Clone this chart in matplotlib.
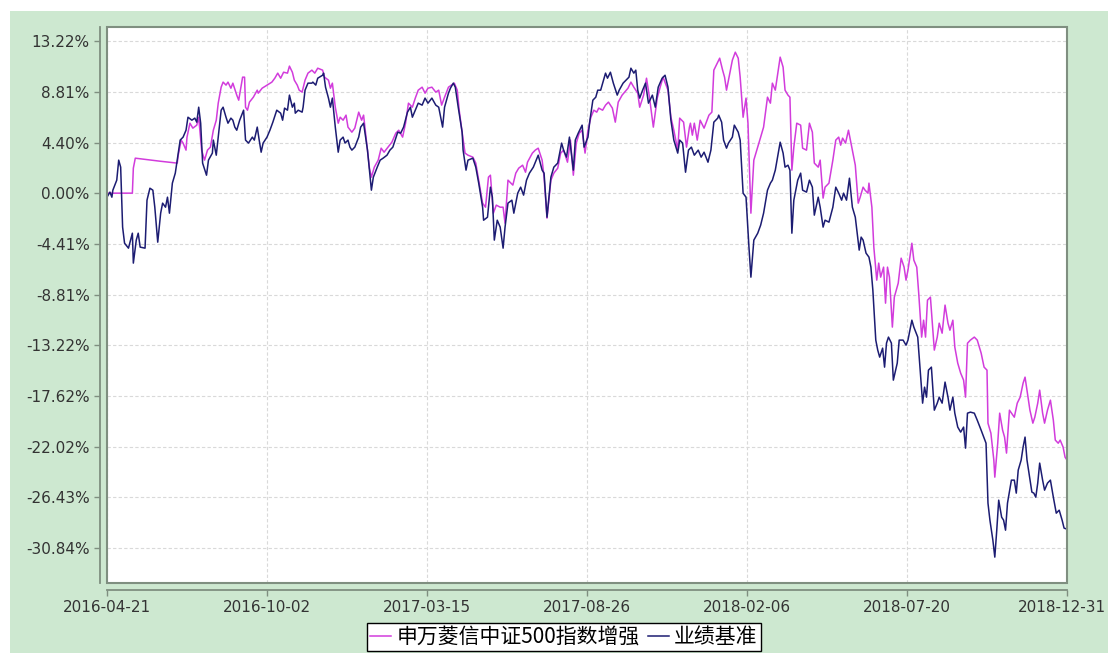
import pandas as pd
import matplotlib
matplotlib.use("Agg")
import matplotlib.pyplot as plt
import matplotlib.transforms as mtransforms
from matplotlib.patches import Rectangle

plt.rcParams['font.family'] = ['Noto Sans CJK SC', 'DejaVu Sans']

start_date = pd.Timestamp("2016-04-21")

# fund: days since start, cumulative return in %
fund_days = [0, 26, 27, 29, 54, 72, 73, 76, 78, 81, 82, 85, 88, 92, 94, 97, 100, 103, 106, 109,
             112, 114, 117, 119, 122, 124, 127, 129, 133, 135, 139, 141, 142, 144, 146, 150, 154, 155, 159, 164,
             169, 172, 175, 178, 181, 185, 187, 190, 192, 195, 197, 200, 203, 206, 210, 213, 216, 221, 223, 227,
             229, 231, 234, 237, 239, 242, 245, 247, 251, 254, 258, 261, 263, 267, 269, 271, 274, 278, 281, 284,
             288, 292, 296, 299, 303, 306, 309, 313, 316, 319, 323, 326, 329, 333, 337, 340, 343, 346, 350, 353,
             356, 359, 361, 364, 367, 370, 375, 378, 381, 385, 388, 391, 393, 396, 399, 403, 406, 408, 411, 416,
             419, 422, 426, 429, 431, 436, 439, 442, 446, 448, 451, 455, 458, 462, 465, 468, 472, 475, 478, 481,
             484, 487, 490, 493, 496, 499, 502, 504, 508, 511, 514, 518, 521, 524, 528, 534, 537, 540, 544, 546,
             550, 553, 556, 560, 564, 567, 570, 575, 578, 581, 585, 587, 591, 594, 597, 598, 600, 602, 605, 608,
             612, 615, 617, 620, 622, 626, 628, 631, 633, 635, 637, 641, 644, 647, 649, 652, 655, 657, 660, 663,
             667, 670, 673, 677, 680, 682, 685, 690, 693, 695, 698, 700, 702, 704, 707, 711, 713, 717, 720, 723,
             725, 729, 731, 734, 736, 740, 744, 747, 750, 752, 754, 757, 760, 764, 767, 770, 772, 775, 777, 780,
             781, 784, 786, 789, 791, 793, 796, 798, 800, 802, 805, 807, 811, 814, 817, 819, 821, 825, 827, 830,
             832, 835, 837, 839, 841, 844, 848, 851, 853, 856, 859, 862, 864, 867, 869, 872, 875, 878, 880, 882,
             885, 889, 892, 896, 899, 902, 903, 906, 909, 910, 913, 915, 918, 920, 922, 925, 930, 933, 936, 939,
             941, 944, 946, 949, 951, 954, 956, 959, 961, 964, 967, 970, 972, 975, 977, 980, 982, 984]
fund_pct = [0.00, 0.00, 2.17, 3.04, 2.78, 2.61, 3.30, 4.61, 4.35, 3.74, 4.87, 6.08, 5.65, 5.91, 6.60, 3.74, 2.87, 3.74, 4.00, 5.47,
            6.34, 7.82, 9.21, 9.65, 9.39, 9.65, 9.12, 9.56, 8.52, 8.08, 10.08, 10.08, 7.47, 7.21, 7.91, 8.34, 8.95, 8.69, 9.12, 9.39,
            9.65, 9.99, 10.43, 9.99, 10.51, 10.43, 11.04, 10.51, 9.82, 9.39, 8.95, 8.78, 9.82, 10.43, 10.69, 10.43, 10.86, 10.69, 10.08, 9.82,
            9.12, 9.56, 7.47, 6.08, 6.60, 6.34, 6.78, 5.74, 5.30, 5.65, 7.04, 6.34, 6.78, 3.74, 2.17, 1.39, 2.26, 2.87, 3.91, 3.56,
            4.00, 4.43, 5.21, 5.47, 4.87, 6.08, 7.82, 7.47, 8.26, 8.95, 9.21, 8.69, 9.12, 9.21, 8.78, 8.95, 7.65, 8.34, 9.21, 9.39,
            9.56, 8.95, 7.21, 5.30, 3.48, 3.30, 3.13, 2.61, 1.13, -0.87, -1.22, 1.39, 1.56, -1.74, -1.04, -1.22, -1.22, -2.61, 1.13, 0.70,
            1.74, 2.17, 2.43, 1.82, 2.69, 3.48, 3.74, 3.91, 2.87, 1.39, -2.17, 1.13, 1.74, 2.17, 3.48, 3.74, 2.69, 4.61, 1.56, 4.35,
            5.21, 5.47, 3.48, 5.47, 6.60, 7.21, 7.04, 7.39, 7.21, 7.65, 7.91, 7.39, 6.17, 7.91, 8.52, 9.12, 9.65, 9.21, 8.69, 7.47,
            8.52, 9.99, 8.34, 5.74, 8.26, 9.21, 10.08, 8.95, 6.60, 5.47, 3.74, 6.52, 6.17, 4.00, 5.74, 6.08, 5.04, 6.08, 4.61, 6.34,
            5.65, 6.34, 6.78, 7.04, 10.69, 11.38, 11.73, 10.69, 10.08, 8.95, 9.82, 11.56, 12.25, 11.73, 10.08, 6.60, 8.26, 6.08, -1.74, 2.87,
            4.00, 4.87, 5.74, 8.34, 7.82, 9.56, 8.95, 11.82, 10.95, 8.95, 8.52, 8.34, 2.00, 4.00, 6.08, 5.91, 3.91, 3.74, 6.08, 5.30,
            2.61, 2.26, 2.87, -0.43, 0.52, 0.87, 2.87, 4.61, 4.87, 4.17, 4.78, 4.35, 5.47, 3.74, 2.43, -0.87, -0.35, 0.52, 0.26, 0.00,
            0.87, -1.22, -4.69, -7.56, -6.08, -7.30, -6.43, -9.56, -6.43, -7.30, -11.64, -9.04, -7.82, -5.65, -6.43, -7.56, -6.69, -4.35, -5.82, -6.43,
            -8.69, -12.51, -11.04, -12.51, -9.30, -9.04, -13.64, -12.51, -11.30, -12.17, -9.73, -11.30, -11.91, -11.04, -13.38, -14.77, -15.64, -16.25, -17.73, -13.04,
            -12.77, -12.51, -12.77, -13.90, -15.12, -15.38, -19.99, -20.86, -23.20, -24.68, -21.73, -19.12, -20.60, -21.20, -22.59, -18.86, -19.47, -18.25, -17.73, -16.51,
            -15.99, -17.73, -18.86, -19.99, -19.47, -18.25, -17.12, -19.12, -19.99, -18.86, -17.99, -19.73, -21.46, -21.73, -21.46, -22.07, -22.94, -23.20]

# benchmark: days since start, cumulative return in %
bench_days = [0, 3, 5, 6, 10, 12, 14, 16, 18, 22, 26, 27, 30, 32, 34, 39, 41, 44, 47, 49,
              52, 55, 57, 60, 62, 64, 67, 70, 72, 75, 78, 81, 83, 87, 90, 92, 94, 96, 98, 102,
              104, 108, 109, 112, 114, 117, 119, 122, 124, 127, 129, 131, 133, 136, 140, 142, 145, 149, 151, 154,
              156, 158, 160, 164, 167, 170, 174, 178, 180, 182, 185, 187, 190, 192, 193, 196, 200, 201, 203, 206,
              210, 211, 214, 216, 221, 222, 224, 227, 229, 231, 234, 237, 239, 242, 244, 247, 249, 251, 254, 258,
              260, 263, 267, 271, 273, 277, 280, 283, 287, 290, 293, 298, 301, 304, 308, 311, 313, 316, 319, 323,
              326, 329, 333, 337, 340, 344, 346, 350, 352, 355, 357, 360, 364, 365, 368, 370, 375, 378, 381, 385,
              386, 390, 391, 393, 395, 397, 400, 403, 406, 408, 411, 415, 417, 421, 424, 427, 430, 433, 437, 440,
              442, 446, 448, 451, 455, 458, 462, 466, 468, 471, 474, 478, 480, 483, 487, 489, 493, 495, 498, 501,
              503, 506, 509, 511, 513, 516, 519, 523, 525, 529, 535, 537, 540, 542, 544, 546, 549, 552, 555, 559,
              562, 565, 569, 572, 575, 578, 581, 585, 587, 590, 593, 596, 599, 602, 606, 609, 612, 616, 619, 622,
              626, 627, 630, 632, 635, 637, 641, 643, 647, 649, 652, 655, 658, 660, 663, 667, 670, 673, 677, 680,
              682, 685, 690, 693, 695, 698, 700, 702, 704, 708, 711, 713, 717, 720, 723, 725, 729, 731, 734, 736,
              740, 744, 747, 750, 753, 755, 758, 761, 764, 767, 771, 773, 775, 778, 781, 783, 785, 788, 790, 792,
              795, 797, 799, 801, 804, 806, 810, 812, 816, 819, 821, 825, 827, 831, 833, 836, 838, 840, 842, 845,
              848, 851, 853, 856, 859, 862, 864, 867, 869, 872, 875, 878, 880, 882, 885, 889, 892, 896, 901, 903,
              905, 908, 910, 912, 914, 917, 919, 921, 923, 927, 930, 932, 934, 937, 939, 941, 943, 945, 948, 950,
              952, 954, 956, 959, 961, 964, 967, 970, 973, 976, 979, 981, 984]
bench_pct = [-0.35, 0.09, -0.35, 0.26, 1.13, 2.87, 2.26, -2.95, -4.35, -4.78, -3.48, -6.08, -4.08, -3.48, -4.69, -4.78, -0.61, 0.43, 0.26, -1.22,
             -4.26, -1.74, -0.87, -1.22, -0.35, -1.74, 0.87, 1.74, 2.87, 4.61, 4.87, 5.47, 6.60, 6.34, 6.52, 6.17, 7.47, 6.08, 2.61, 1.56,
             2.87, 3.48, 4.61, 3.30, 4.87, 7.21, 7.47, 6.60, 6.08, 6.52, 6.34, 5.74, 5.47, 6.34, 7.21, 4.61, 4.35, 4.87, 4.61, 5.74,
             4.61, 3.56, 4.35, 4.87, 5.47, 6.17, 7.21, 6.95, 6.34, 7.39, 7.21, 8.52, 7.47, 7.82, 6.95, 7.21, 7.04, 7.47, 8.95, 9.56,
             9.56, 9.65, 9.39, 9.99, 10.25, 10.43, 9.21, 8.26, 7.47, 8.26, 5.74, 3.56, 4.61, 4.87, 4.35, 4.61, 4.00, 3.74, 4.00, 4.87,
             5.74, 6.08, 3.74, 0.26, 1.39, 2.26, 2.87, 3.04, 3.30, 3.74, 4.00, 5.30, 5.21, 5.74, 7.04, 7.47, 6.60, 7.21, 7.82, 7.65,
             8.26, 7.82, 8.26, 7.65, 7.47, 5.74, 7.47, 8.69, 9.12, 9.56, 9.21, 7.47, 5.30, 3.74, 2.00, 2.87, 3.04, 2.26, 0.87, -1.22,
             -2.35, -2.09, -1.22, 0.52, -0.35, -4.08, -2.35, -2.95, -4.78, -2.95, -0.87, -0.61, -1.74, 0.00, 0.52, -0.17, 1.13, 1.74, 2.26, 2.87,
             3.30, 2.00, 1.74, -2.09, 1.39, 2.26, 2.61, 4.35, 3.74, 3.13, 4.87, 2.00, 4.61, 5.21, 5.91, 4.00, 4.87, 6.34, 8.08, 8.34,
             8.95, 8.95, 9.82, 10.43, 9.99, 10.51, 9.56, 8.52, 8.95, 9.56, 10.08, 10.86, 10.43, 10.69, 8.95, 8.26, 8.95, 9.56, 7.82, 8.52,
             7.47, 9.21, 9.99, 10.25, 9.21, 6.34, 4.61, 3.48, 4.61, 4.35, 1.82, 3.74, 4.00, 3.30, 3.74, 3.13, 3.56, 2.69, 3.74, 6.17,
             6.52, 6.78, 6.17, 4.61, 3.91, 4.35, 4.87, 5.91, 5.30, 4.61, 0.00, -0.35, -4.69, -7.30, -4.08, -3.48, -2.78, -1.74, 0.26, 0.87,
             1.13, 2.00, 4.43, 3.48, 2.26, 2.43, 2.00, -3.48, -0.61, 1.13, 1.74, 0.26, 0.09, 1.13, 0.52, -1.91, -0.35, -1.22, -2.95, -2.35,
             -2.52, -1.22, 0.52, 0.00, -0.61, 0.00, -0.61, 1.30, -1.22, -2.09, -4.95, -3.82, -4.08, -5.21, -5.56, -6.43, -8.43, -12.77, -13.64, -14.25,
             -13.47, -15.12, -13.03, -12.51, -13.03, -16.25, -14.77, -12.77, -12.77, -13.21, -12.77, -11.04, -11.64, -12.51, -14.77, -18.25, -16.86, -17.73, -15.38, -15.12,
             -18.86, -18.25, -17.73, -18.25, -16.42, -17.73, -18.86, -17.73, -19.12, -20.33, -20.77, -20.33, -22.16, -19.12, -19.03, -19.12, -19.73, -20.60, -21.73, -26.94,
             -28.42, -30.15, -31.63, -29.29, -26.68, -28.16, -28.42, -29.29, -26.94, -24.94, -24.94, -26.07, -24.07, -23.20, -22.07, -21.20, -23.20, -24.33, -25.98, -26.07,
             -26.42, -25.20, -23.46, -24.94, -25.81, -25.20, -24.94, -26.42, -27.81, -27.55, -28.42, -29.11, -29.20]

x_ticks = ["2016-04-21", "2016-10-02", "2017-03-15", "2017-08-26", "2018-02-06", "2018-07-20", "2018-12-31"]
y_ticks = [13.22, 8.81, 4.40, 0.00, -4.41, -8.81, -13.22, -17.62, -22.02, -26.43, -30.84]
series_names = ["申万菱信中证500指数增强", "业绩基准"]

fund_dates = start_date + pd.to_timedelta(fund_days, unit="D")
bench_dates = start_date + pd.to_timedelta(bench_days, unit="D")
tick_dates = pd.to_datetime(x_ticks)

bg = "#cde8d0"
frame_col = "#7f8f80"
txt_col = "#333333"

fig = plt.figure(figsize=(11.08, 6.53), dpi=100, facecolor="white")
fig.patches.append(Rectangle((10 / 1108, 0), 1, (653 - 11) / 653, transform=fig.transFigure,
                             facecolor=bg, edgecolor="none", zorder=-10))

ax = fig.add_axes([107 / 1108, (653 - 583) / 653, 960 / 1108, 556 / 653])
ax.set_facecolor("white")

ax.plot(fund_dates, fund_pct, color="#d23cdc", lw=1.1, label=series_names[0])
ax.plot(bench_dates, bench_pct, color="#1c1c72", lw=1.1, label=series_names[1])

ax.set_xlim(tick_dates[0], tick_dates[-1])
ax.set_ylim(-33.88, 14.44)
ax.set_xticks(tick_dates)
ax.set_xticklabels(x_ticks)
ax.set_yticks(y_ticks)
ax.set_yticklabels([f"{v:.2f}%" for v in y_ticks])

ax.grid(True, color="#d9d9d9", linestyle=(0, (3, 2)), linewidth=0.8)

for s in ["top", "right"]:
    ax.spines[s].set_visible(False)
for s in ["left", "bottom"]:
    ax.spines[s].set_position(("outward", 5))
    ax.spines[s].set_color(frame_col)
    ax.spines[s].set_linewidth(1.3)
ax.add_patch(Rectangle((0, 0), 1, 1, transform=ax.transAxes, fill=False,
                       edgecolor=frame_col, linewidth=1.5, clip_on=False, zorder=5))

ax.tick_params(axis="both", colors=frame_col, labelcolor=txt_col, labelsize=11, length=4, width=1)
for lab in ax.get_xticklabels() + ax.get_yticklabels():
    lab.set_family(["DejaVu Sans"])
# last date label is centred on its tick but nudged a few pixels so it stays inside the image
last = ax.get_xticklabels()[-1]
last.set_transform(last.get_transform() + mtransforms.ScaledTranslation(-5 / 100, 0, fig.dpi_scale_trans))

leg = fig.legend(loc="upper center", bbox_to_anchor=(564 / 1108, (653 - 623) / 653), ncol=2,
                 frameon=True, fancybox=False, fontsize=15, handlelength=1.0, handletextpad=0.25,
                 columnspacing=0.4, borderpad=0.15, borderaxespad=0)
leg.get_frame().set_edgecolor("black")
leg.get_frame().set_linewidth(1.0)
leg.get_frame().set_facecolor("white")
leg.get_frame().set_alpha(1)

fig.savefig("out.png", dpi=100, facecolor=fig.get_facecolor())
